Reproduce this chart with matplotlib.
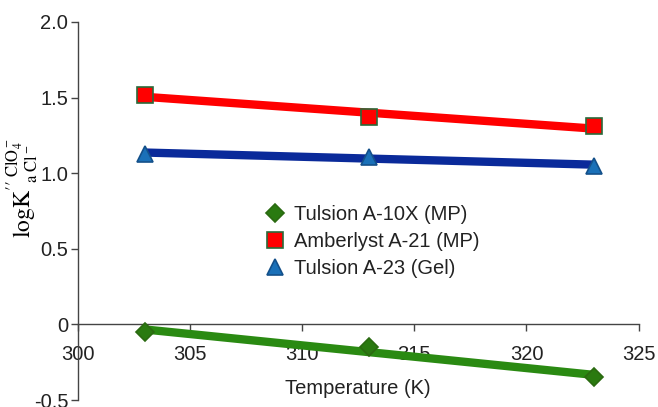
import numpy as np
import matplotlib.pyplot as plt

plt.rcParams['font.family'] = ['Liberation Sans', 'DejaVu Sans']
plt.rcParams['mathtext.fontset'] = 'stix'

temps = [303, 313, 323]
tulsion_a10x = [-0.05, -0.15, -0.35]
amberlyst_a21 = [1.52, 1.37, 1.31]
tulsion_a23 = [1.13, 1.11, 1.05]

fig = plt.figure(figsize=(6.58, 4.07), dpi=100)
ax = fig.add_axes([0.1185, 0.017, 0.852, 0.929])

x = np.array(temps)
series = [
    (tulsion_a10x, 'Tulsion A-10X (MP)', 'D', '#2a8a12', '#2a7a10', '#2a6a10', 9),
    (amberlyst_a21, 'Amberlyst A-21 (MP)', 's', '#ff0000', '#ff0000', '#2a6a3a', 11),
    (tulsion_a23, 'Tulsion A-23 (Gel)', '^', '#0a2a9a', '#1a70b8', '#14508a', 12),
]
for y, lab, mk, lc, fc, ec, ms in series:
    # trendline through the points
    k, b = np.polyfit(x, y, 1)
    ax.plot(x, k * x + b, color=lc, lw=6, solid_capstyle='butt', zorder=2)
    ax.plot(x, y, ls='none', marker=mk, ms=ms, mfc=fc, mec=ec, mew=1.2,
            label=lab, zorder=3)

ax.set_xlim(300, 325)
ax.set_ylim(-0.5, 2.0)
ax.set_xticks([300, 305, 310, 315, 320, 325])
ax.set_yticks([-0.5, 0, 0.5, 1.0, 1.5, 2.0])
ax.set_yticklabels(['-0.5', '0', '0.5', '1.0', '1.5', '2.0'])

ax.spines['top'].set_visible(False)
ax.spines['right'].set_visible(False)
ax.spines['bottom'].set_position(('data', 0))
for s in ('left', 'bottom'):
    ax.spines[s].set_color('#444444')
    ax.spines[s].set_linewidth(1.0)
ax.tick_params(direction='out', length=5, width=1.0, color='#444444',
               labelsize=14.5, labelcolor='#222222')
ax.tick_params(axis='x', pad=10)
ax.tick_params(axis='y', pad=2)

ax.set_xlabel('Temperature (K)', fontsize=14.5, color='#222222')
ax.xaxis.set_label_coords(0.5, 0.005)
ax.xaxis.label.set_va('bottom')
ax.set_ylabel(r'$\mathrm{logK}^{\prime\prime\ \mathrm{ClO_4^-}}_{\ \ \mathrm{a}\ \mathrm{Cl^-}}$',
              fontsize=17)
ax.yaxis.set_label_coords(-0.068, 0.56)

leg = ax.legend(loc='center left', bbox_to_anchor=(0.32, 0.42), frameon=False,
                fontsize=14.5, handlelength=1.0, handletextpad=0.4,
                labelspacing=0.4, borderaxespad=0)
for t in leg.get_texts():
    t.set_color('#222222')

fig.savefig('out.png', dpi=100)
